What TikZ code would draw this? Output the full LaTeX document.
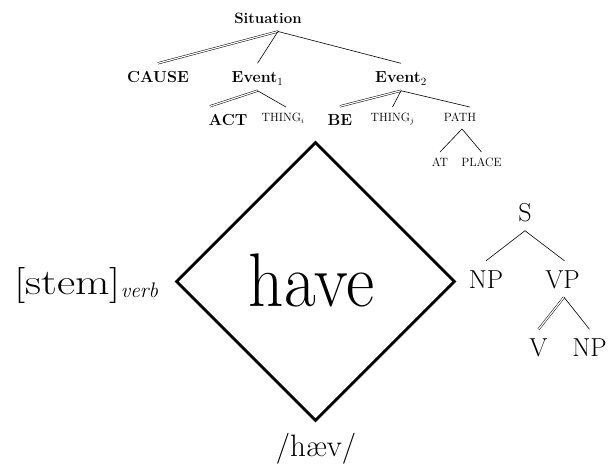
\documentclass[tikz,border=0pt]{standalone}
\usepackage{fontspec}
\usetikzlibrary{shapes.geometric,calc}
\begin{document}
\begin{tikzpicture}[x=1pt,y=-1pt,
  tl/.style={line width=0.6pt},
  dl/.style={double, double distance=1.2pt, line width=0.5pt},
  bnode/.style={font=\fontsize{16}{16}\selectfont\bfseries, inner xsep=0pt, inner ysep=8pt, text height=11pt, text depth=0pt},
  snode/.style={font=\fontsize{12}{12}\selectfont, inner xsep=0pt, inner ysep=7pt, text height=7.5pt, text depth=0pt},
  rnode/.style={font=\fontsize{26}{26}\selectfont, inner xsep=0pt, inner ysep=9pt, text height=18pt, text depth=0pt},
  bigtext/.style={inner sep=0pt}
]
\useasboundingbox (0,0) rectangle (608,464);

% top conceptual tree
\node[bnode, font=\fontsize{15}{15}\selectfont\bfseries, text height=10.5pt] (sit) at (268,18) {Situation};
\node[bnode] (cause) at (158,77) {CAUSE};
\node[bnode] (ev1) at (257.5,77) {Event$_1$};
\node[bnode] (ev2) at (401,77) {Event$_2$};
\node[bnode] (act) at (228,120) {ACT};
\node[snode] (thingi) at (283,118) {THING$_i$};
\node[bnode] (be) at (340,120) {BE};
\node[snode] (thingj) at (392.5,118) {THING$_j$};
\node[snode] (path) at (460,118) {PATH};
\node[snode] (at) at (440,163) {AT};
\node[snode] (place) at (481.5,163) {PLACE};

\draw[dl] ([xshift=10pt]sit.south) -- (cause.north);
\draw[tl] ([xshift=10pt]sit.south) -- (ev1.north);
\draw[tl] ([xshift=10pt]sit.south) -- (ev2.north);
\draw[dl] (ev1.south) -- ([xshift=-18pt]act.north);
\draw[tl] (ev1.south) -- ([xshift=3pt]thingi.north);
\draw[dl] (ev2.south) -- (be.north);
\draw[tl] (ev2.south) -- (thingj.north);
\draw[tl] (ev2.south) -- ([xshift=10pt]path.north);
\draw[tl] ([xshift=2pt]path.south) -- (at.north);
\draw[tl] ([xshift=2pt]path.south) -- (place.north);

% right syntactic tree
\node[rnode] (s) at (525,212.5) {S};
\node[rnode] (np1) at (486,279) {NP};
\node[rnode] (vp) at (562.5,279) {VP};
\node[rnode] (v) at (538.5,347.5) {V};
\node[rnode] (np2) at (589.5,347.5) {NP};

\draw[tl] (s.south) -- (np1.north);
\draw[tl] (s.south) -- ([xshift=2pt]vp.north);
\draw[dl] ([xshift=1.5pt]vp.south) -- (v.north);
\draw[tl] ([xshift=1.5pt]vp.south) -- (np2.north);

% diamond
\node[diamond, draw, line width=2.8pt, minimum width=279pt, minimum height=279pt, inner sep=0pt, aspect=1] (dia) at (315.5,281.5) {};
\node[bigtext, anchor=base] (have) at (311.5,306) {\scalebox{0.91}[1]{\fontsize{76}{76}\selectfont have}};
\node[bigtext, anchor=base west] (stem) at (14,294) {\scalebox{1.24}[1]{\fontsize{36}{36}\selectfont[stem]}\raisebox{-3pt}{\fontsize{21}{21}\selectfont\itshape verb}};
\node[bigtext, anchor=base] (hav) at (316,456) {\fontsize{31}{31}\selectfont/hæv/};
\end{tikzpicture}
\end{document}
